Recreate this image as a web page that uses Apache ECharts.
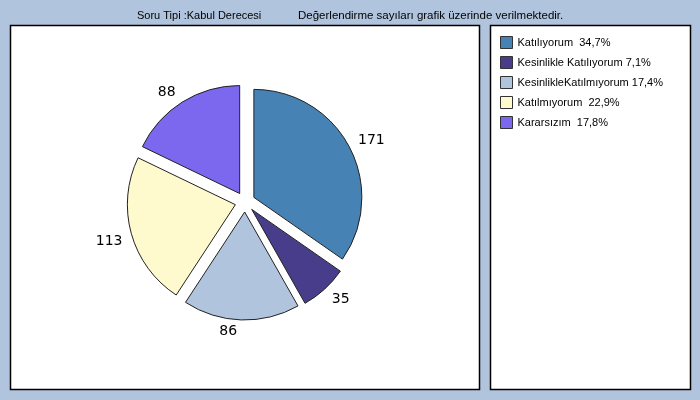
<!DOCTYPE html>
<html>
<head>
<meta charset="utf-8">
<script src="https://cdn.jsdelivr.net/npm/echarts@6/dist/echarts.min.js"></script>
<style>html,body{margin:0;padding:0;background:#B0C4DE;}#c{width:700px;height:400px;}</style>
</head>
<body>
<div id="c"></div>
<script>
const categories = ['Katılıyorum', 'Kesinlikle Katılıyorum', 'Kesinlikle Katılmıyorum', 'Katılmıyorum', 'Kararsızım'];
const values = [171, 35, 86, 113, 88];
const legendLabels = ['Katılıyorum  34,7%', 'Kesinlikle Katılıyorum 7,1%', 'KesinlikleKatılmıyorum 17,4%', 'Katılmıyorum  22,9%', 'Kararsızım  17,8%'];
const colors = ['#4682B4', '#483D8B', '#B0C4DE', '#FFFACD', '#7B68EE'];
const titleLeft = 'Soru Tipi :Kabul Derecesi';
const titleRight = 'Değerlendirme sayıları grafik üzerinde verilmektedir.';

const CX = 245, CY = 202;
const chart = echarts.init(document.getElementById('c'), null, {renderer: 'canvas'});
const legendMap = {};
categories.forEach((c, i) => legendMap[c] = legendLabels[i]);

chart.setOption({
  backgroundColor: '#B0C4DE',
  animation: false,
  color: colors,
  title: [
    {text: titleLeft, left: 137, top: 10, padding: 0, textStyle: {fontFamily: 'Liberation Sans', fontSize: 11, fontWeight: 'normal', color: '#000'}},
    {text: titleRight, left: 298, top: 10, padding: 0, textStyle: {fontFamily: 'Liberation Sans', fontSize: 11.5, fontWeight: 'normal', color: '#000'}}
  ],
  graphic: [
    {type: 'rect', shape: {x: 10.5, y: 25.5, width: 469, height: 364}, style: {fill: '#fff', stroke: '#000', lineWidth: 1.5}, z: -10, silent: true},
    {type: 'rect', shape: {x: 490.5, y: 25.5, width: 200, height: 364}, style: {fill: '#fff', stroke: '#000', lineWidth: 1.5}, z: -10, silent: true}
  ],
  legend: {
    orient: 'vertical',
    left: 500, top: 36, padding: 0,
    itemWidth: 12, itemHeight: 12, itemGap: 7,
    icon: 'rect',
    data: categories,
    selectedMode: false,
    formatter: n => legendMap[n],
    itemStyle: {borderColor: '#333', borderWidth: 1},
    textStyle: {fontFamily: 'Liberation Sans', fontSize: 11, color: '#000'}
  },
  series: [{
    type: 'pie',
    center: [CX, CY],
    radius: 108,
    startAngle: 90,
    clockwise: true,
    selectedMode: 'multiple',
    selectedOffset: 10,
    avoidLabelOverlap: false,
    itemStyle: {borderColor: '#222', borderWidth: 1},
    select: {itemStyle: {borderColor: '#222', borderWidth: 1}},
    emphasis: {disabled: true},
    label: {show: true, position: 'outside', formatter: '{c}', fontFamily: 'DejaVu Sans', fontSize: 14, color: '#000', distanceToLabelLine: 4},
    labelLine: {show: false, length: 5, length2: 0},
    labelLayout: function (p) {
      const r = p.labelRect;
      const mid = r.y + r.height / 2;
      return {dy: mid < CY ? -r.height / 2 + 2 : r.height / 2 - 1};
    },
    data: categories.map((c, i) => ({name: c, value: values[i], selected: true}))
  }]
});
</script>
</body>
</html>
